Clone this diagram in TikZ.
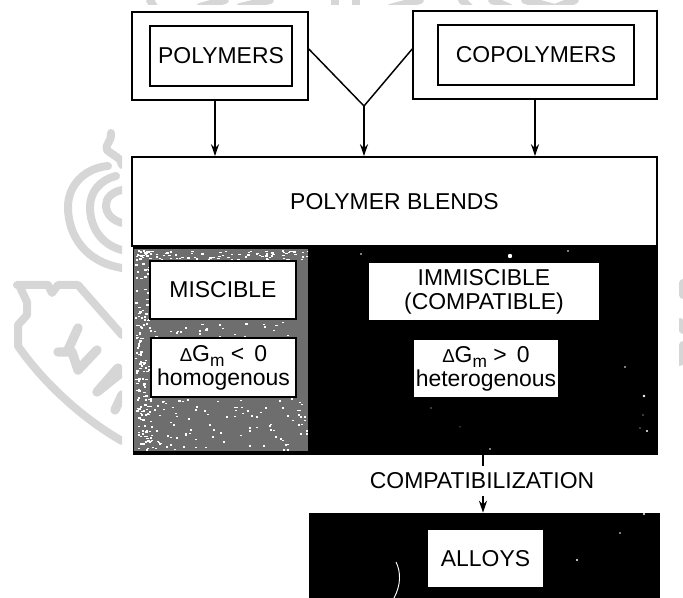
\documentclass[tikz,border=0pt]{standalone}
\usepackage{fontspec}
\setmainfont{Liberation Sans}
\usetikzlibrary{arrows.meta}
\definecolor{wm}{HTML}{D6D6D6}
\definecolor{hatch}{HTML}{6E6E6E}
\tikzset{
  outerbox/.style={draw=black,line width=1.2pt,fill=white,inner sep=0pt},
  innerbox/.style={draw=black,line width=1.3pt,fill=white,inner sep=0pt,align=center,font=\lab},
  plainbox/.style={fill=white,inner sep=0pt,align=center,font=\lab},
  conn/.style={draw=black,line width=1.1pt},
  arr/.style={conn,-{Stealth[length=9pt,width=6pt]}},
  wmark/.style={draw=wm,line width=6pt,line cap=round,line join=round},
  fleck/.style={fill=white},
  speck/.style={fill=white}
}
\newcommand{\lab}{\fontsize{17.2pt}{17.9pt}\selectfont}
\newcommand{\dG}[1]{{\fontsize{14pt}{14pt}\selectfont Δ}G\raisebox{-0.22em}{\fontsize{13pt}{13pt}\selectfont m} #1}
\begin{document}
\begin{tikzpicture}[x=0.75pt,y=-0.75pt]
\useasboundingbox (0,0) rectangle (683,598);
% watermark, left
\begin{scope}
\clip (0,0) rectangle (122,598);
\draw[wmark] (122,268) .. controls (85,262) and (68,235) .. (68,207) .. controls (68,185) and (85,168) .. (108,166);
\draw[wmark] (122,250) .. controls (102,245) and (90,228) .. (90,207) .. controls (90,192) and (100,180) .. (116,176);
\draw[wmark] (122,223) .. controls (112,220) and (106,214) .. (106,205) .. controls (106,198) and (112,192) .. (122,190);
\draw[wmark] (111,133) .. controls (112,142) and (104,145) .. (107,150) .. controls (112,155) and (122,158) .. (122,165);
\draw[wmark] (17,285) -- (48,285) -- (52,293) -- (58,285) -- (78,285) -- (122,335);
\draw[wmark] (19,285) -- (27,302) -- (27,315) -- (18,325) -- (18,346) .. controls (45,385) and (85,420) .. (122,441);
\draw[wmark,line width=7pt] (78,328) -- (68,350);
\draw[wmark,line width=7pt] (58,352) -- (72,352) -- (78,370) -- (97,350);
\draw[wmark,line width=7pt] (118,368) -- (97,392) -- (122,372);
\draw[wmark,line width=7pt] (115,410) -- (122,395);
\end{scope}
% watermark, top and right
\begin{scope}
\clip (0,0) rectangle (683,5);
\draw[wmark] (150,0) -- (154,7);
\draw[wmark] (200,7) -- (225,0);
\draw[wmark] (270,0) -- (240,7);
\draw[wmark] (335,8) -- (335,0);
\draw[wmark] (356,0) -- (356,8);
\draw[wmark] (390,8) -- (420,0);
\draw[wmark] (462,0) -- (470,8);
\draw[wmark] (492,0) -- (510,8);
\draw[wmark] (525,0) -- (555,8);
\draw[wmark] (555,8) -- (575,0);
\end{scope}
\begin{scope}
\clip (679,270) rectangle (683,598);
\draw[wmark] (683,283) -- (683,295);
\draw[wmark] (680,322) -- (683,330);
\draw[wmark] (680,362) -- (683,345);
\end{scope}
% top boxes
\node[outerbox,minimum width=176*0.75pt,minimum height=88*0.75pt] (polout) at (220,56) {};
\node[innerbox,minimum width=142*0.75pt,minimum height=60*0.75pt] (pol) at (221,56) {POLYMERS};
\node[outerbox,minimum width=244*0.75pt,minimum height=88*0.75pt] (copout) at (535,55) {};
\node[innerbox,minimum width=196*0.75pt,minimum height=60*0.75pt] (cop) at (536,55) {COPOLYMERS};
% blends
\node[outerbox,font=\lab,minimum width=525*0.75pt,minimum height=89*0.75pt] (blends) at (394.5,201.5) {POLYMER BLENDS};
% black region
\node[fill=black,inner sep=0pt,minimum width=525*0.75pt,minimum height=209*0.75pt] (dark) at (395.5,350.5) {};
\node[fill=hatch,inner sep=0pt,minimum width=174*0.75pt,minimum height=202*0.75pt] (mix) at (221,350) {};
\begin{scope}
\clip (134,249) rectangle (308,451);
\pgfmathsetseed{4242}
% flecks, thickest along the left and top edges and at the foot
\foreach \i in {1,...,170}{
  \pgfmathsetmacro{\fx}{135+rnd*16}
  \pgfmathsetmacro{\fy}{250+rnd*200}
  \fill[fleck] (\fx,\fy) rectangle ++(2.4,1.6);
}
\foreach \i in {1,...,80}{
  \pgfmathsetmacro{\fx}{135+rnd*172}
  \pgfmathsetmacro{\fy}{250+rnd*10}
  \fill[fleck] (\fx,\fy) rectangle ++(2.4,1.4);
}
\foreach \i in {1,...,110}{
  \pgfmathsetmacro{\fx}{135+rnd*172}
  \pgfmathsetmacro{\fy}{398+rnd*52}
  \fill[fleck] (\fx,\fy) rectangle ++(2,1.6);
}
\foreach \i in {1,...,25}{
  \pgfmathsetmacro{\fx}{150+rnd*150}
  \pgfmathsetmacro{\fy}{320+rnd*17}
  \fill[fleck] (\fx,\fy) rectangle ++(2.4,1.4);
}
\end{scope}
\node[innerbox,minimum width=146*0.75pt,minimum height=58*0.75pt] (misc) at (223,290) {MISCIBLE};
\node[innerbox,minimum width=145*0.75pt,minimum height=59*0.75pt] (dgneg) at (223.5,367.5) {\dG{<\,\ 0}\\homogenous};
\node[plainbox,minimum width=230*0.75pt,minimum height=57*0.75pt] (immi) at (484,291.5) {IMMISCIBLE\\(COMPATIBLE)};
\node[plainbox,minimum width=144*0.75pt,minimum height=57*0.75pt] (dgpos) at (486,368.5) {\dG{>\,\ 0}\\heterogenous};
% alloys
\node[fill=black,inner sep=0pt,minimum width=351*0.75pt,minimum height=85*0.75pt] (alloyblk) at (484.5,555.5) {};
\node[plainbox,minimum width=115*0.75pt,minimum height=57*0.75pt] (alloys) at (485.5,558.5) {ALLOYS};
\draw[white,line width=0.7pt] (396,562) .. controls (401,572) and (401,585) .. (394,598);
% specks on the black
\foreach \sx/\sy/\sr in {510/256/2.2,568/251/0.8,361/254/0.8,625/367/0.9,644/396/1.3,643/415/0.7,647/431/1.2,640/428/0.6,490/449/0.8,431/408/0.6,460/427/0.5,620/533/0.8,577/560/1.1,644/514/1.2}
  \fill[speck] (\sx,\sy) circle (\sr);
% connectors
\coordinate (jn) at (364,106);
\coordinate (pa) at (215,100);
\draw[conn] (polout.east |- 0,49) -- (jn) -- (copout.west |- 0,49);
\draw[arr] (pa) -- (pa |- blends.north);
\draw[arr] (jn) -- (jn |- blends.north);
\draw[arr] (copout.south) -- (copout.south |- blends.north);
% compatibilization
\coordinate (ca) at (483,481);
\draw[arr] (ca |- dark.south) -- (ca |- alloyblk.north);
\node[fill=white,inner xsep=1pt,inner ysep=5pt,font=\lab] (compat) at (482,481) {COMPATIBILIZATION};
\end{tikzpicture}
\end{document}
